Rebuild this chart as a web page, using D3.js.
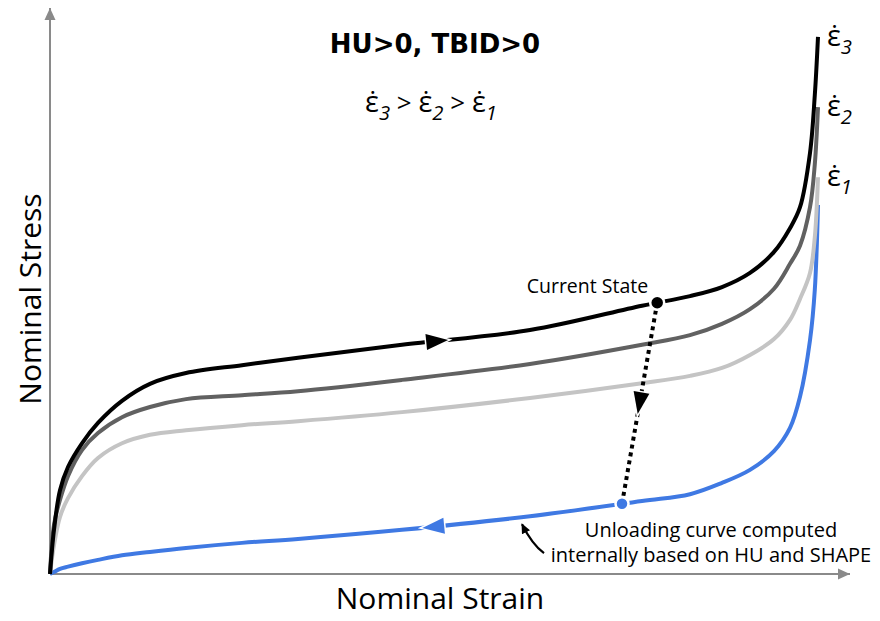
<!DOCTYPE html>
<html>
<head>
<meta charset="utf-8">
<script src="https://cdn.jsdelivr.net/npm/d3@7"></script>
<style>
  body { margin: 0; background: #fff; }
  svg text { font-family: "Open Sans", "Noto Sans", sans-serif; fill: #000; }
</style>
</head>
<body>
<div id="chart"></div>
<script>
// nominal strain (percent of axis) shared by all curves
const strain = [0, 0.5, 1.25, 2.25, 4, 6, 9, 12.5, 17, 24, 31, 44, 60, 74, 80, 84, 87.5, 90.5, 92.5, 93.75, 95, 95.6, 96]

// nominal stress (percent of axis) for each strain rate
const stressRate3 = [0, 7.8, 14.8, 18.9, 23.1, 26.7, 30.6, 33.6, 35.5, 36.9, 38.2, 40.5, 43.1, 47.4, 49.1, 50.7, 53.2, 56.9, 61.1, 64.8, 74.4, 84.6, 94.9]
const stressRate2 = [0, 8.7, 13.1, 17.3, 21.9, 24.9, 27.7, 29.5, 30.9, 31.6, 32.3, 34.3, 37.1, 40.5, 42.2, 44.2, 46.8, 50.4, 54.8, 58.0, 64.8, 72.4, 82.5]
const stressRate1 = [0, 5.1, 10.1, 13.4, 17.3, 20.5, 23.1, 24.6, 25.4, 26.3, 27.0, 28.6, 31.1, 33.7, 35.0, 36.4, 38.7, 41.5, 44.9, 48.6, 53.2, 59.5, 70.1]
const stressUnload = [0, 0.35, 0.9, 1.3, 1.9, 2.5, 3.3, 3.9, 4.6, 5.5, 6.2, 7.8, 10.2, 12.9, 14.1, 16.1, 18.4, 21.7, 25.8, 31.3, 41.3, 50.2, 65.2]

const rateLabels = ["3", "2", "1"]
const rateColors = ["#000000", "#616161", "#c4c4c4"]
const unloadColor = "#3f79e3"

const loadArrowStrain = 48.4     // direction arrow on the loading curve
const unloadArrowStrain = 47.9   // direction arrow on the unloading curve
const currentStrain = 75.9       // "Current State" on the fastest curve
const unloadStartStrain = 71.5   // where unloading begins
const noteStrain = 59            // annotation arrow target

const titleText = "HU>0, TBID>0"
const noteLines = ["Unloading curve computed", "internally based on HU and SHAPE"]

const W = 880, H = 621
const svg = d3.select("#chart").append("svg")
    .attr("width", W)
    .attr("height", H)

const x = d3.scaleLinear().domain([0, 100]).range([50, 850])
const y = d3.scaleLinear().domain([0, 100]).range([574, 8])

// arrowheads
const defs = svg.append("defs")
defs.append("marker")
    .attr("id", "axisArrow")
    .attr("markerUnits", "userSpaceOnUse")
    .attr("viewBox", "0 -6 12 12")
    .attr("refX", 12).attr("refY", 0)
    .attr("markerWidth", 12).attr("markerHeight", 12)
    .attr("orient", "auto")
    .append("path").attr("d", "M0,-5.5L12,0L0,5.5Z").attr("fill", "#8a8a8a")
defs.append("marker")
    .attr("id", "noteArrow")
    .attr("markerUnits", "userSpaceOnUse")
    .attr("viewBox", "0 -5 10 10")
    .attr("refX", 9).attr("refY", 0)
    .attr("markerWidth", 10).attr("markerHeight", 10)
    .attr("orient", "auto")
    .append("path").attr("d", "M0,-4.5L10,0L0,4.5Z").attr("fill", "#000")

// axes: plain arrows, no ticks
const xAxis = svg.append("g")
    .attr("transform", "translate(0," + y(0) + ")")
    .call(d3.axisBottom(x).ticks(0).tickSizeOuter(0))
const yAxis = svg.append("g")
    .attr("transform", "translate(" + x(0) + ",0)")
    .call(d3.axisLeft(y).ticks(0).tickSizeOuter(0))
svg.selectAll(".domain")
    .attr("stroke", "#8a8a8a")
    .attr("stroke-width", 2)
    .attr("marker-end", "url(#axisArrow)")
// draw the y domain bottom -> top so the arrow sits at the top
yAxis.select(".domain").attr("d", "M0," + y(0) + "V" + y(100))
xAxis.select(".domain").attr("d", "M" + x(0) + ",0H" + x(100))

svg.append("text")
    .attr("x", 440).attr("y", 609)
    .attr("text-anchor", "middle")
    .style("font-size", "30px")
    .text("Nominal Strain")
svg.append("text")
    .attr("transform", "translate(41,299) rotate(-90)")
    .attr("text-anchor", "middle")
    .style("font-size", "30px")
    .text("Nominal Stress")

// curves
const line = d3.line()
    .x(d => x(d[0]))
    .y(d => y(d[1]))
    .curve(d3.curveCatmullRom.alpha(0.5))

const unloadPath = svg.append("path")
    .datum(d3.zip(strain, stressUnload))
    .attr("fill", "none")
    .attr("stroke", unloadColor)
    .attr("stroke-width", 4)
    .attr("d", line)

const rateSeries = [stressRate3, stressRate2, stressRate1]
let ratePaths = []
for (let i = rateSeries.length - 1; i >= 0; i--) {
    ratePaths[i] = svg.append("path")
        .datum(d3.zip(strain, rateSeries[i]))
        .attr("fill", "none")
        .attr("stroke", rateColors[i])
        .attr("stroke-width", 4)
        .attr("d", line)
}

// find point (and heading) on a path at a given strain
function pointAt(path, s) {
    const node = path.node()
    const px = x(s)
    let lo = 0, hi = node.getTotalLength()
    for (let k = 0; k < 40; k++) {
        const mid = (lo + hi) / 2
        if (node.getPointAtLength(mid).x < px) lo = mid
        else hi = mid
    }
    const p = node.getPointAtLength(lo)
    const a = node.getPointAtLength(Math.max(0, lo - 3))
    const b = node.getPointAtLength(lo + 3)
    p.angle = Math.atan2(b.y - a.y, b.x - a.x) * 180 / Math.PI
    return p
}

function arrowHead(p, angle, color) {
    svg.append("path")
        .attr("d", "M-11,-8L11,0L-11,8Z")
        .attr("transform", "translate(" + p.x + "," + p.y + ") rotate(" + angle + ")")
        .attr("fill", color)
        .attr("stroke", "#fff")
        .attr("stroke-width", 3)
        .attr("paint-order", "stroke")
}

const pLoad = pointAt(ratePaths[0], loadArrowStrain)
arrowHead(pLoad, pLoad.angle, rateColors[0])
const pUnload = pointAt(unloadPath, unloadArrowStrain)
arrowHead(pUnload, pUnload.angle + 180, unloadColor)

// current state -> unloading start
const pCur = pointAt(ratePaths[0], currentStrain)
const pStart = pointAt(unloadPath, unloadStartStrain)
svg.append("line")
    .attr("x1", pCur.x).attr("y1", pCur.y)
    .attr("x2", pStart.x).attr("y2", pStart.y)
    .attr("stroke", "#000")
    .attr("stroke-width", 4)
    .attr("stroke-dasharray", "4,4")
const dropAngle = Math.atan2(pStart.y - pCur.y, pStart.x - pCur.x) * 180 / Math.PI
arrowHead({x: pCur.x + (pStart.x - pCur.x) * 0.5, y: pCur.y + (pStart.y - pCur.y) * 0.5}, dropAngle, "#000")

svg.append("circle")
    .attr("cx", pCur.x).attr("cy", pCur.y).attr("r", 7)
    .attr("fill", "#000").attr("stroke", "#fff").attr("stroke-width", 2.5)
svg.append("circle")
    .attr("cx", pStart.x).attr("cy", pStart.y).attr("r", 6.5)
    .attr("fill", unloadColor).attr("stroke", "#fff").attr("stroke-width", 2.5)

svg.append("text")
    .attr("x", pCur.x - 9).attr("y", pCur.y - 10)
    .attr("text-anchor", "end")
    .style("font-size", "19.5px")
    .text("Current State")

// annotation for unloading curve
const pNote = pointAt(unloadPath, noteStrain)
const tip = {x: pNote.x, y: pNote.y + 7}
const tail = {x: pNote.x + 22, y: pNote.y + 36}
svg.append("path")
    .attr("d", "M" + tail.x + "," + tail.y + "Q" + (tail.x - 12) + "," + (tail.y - 9) + " " + tip.x + "," + tip.y)
    .attr("fill", "none")
    .attr("stroke", "#000")
    .attr("stroke-width", 2.2)
    .attr("marker-end", "url(#noteArrow)")
svg.selectAll(".note")
    .data(noteLines)
    .enter()
    .append("text")
    .attr("class", "note")
    .attr("x", 711)
    .attr("y", (d, i) => 537 + i * 25)
    .attr("text-anchor", "middle")
    .style("font-size", "20px")
    .text(d => d)

// title
svg.append("text")
    .attr("x", 435).attr("y", 53)
    .attr("text-anchor", "middle")
    .style("font-family", "'DejaVu Sans', sans-serif")
    .style("font-size", "26px")
    .style("font-weight", "bold")
    .text(titleText)

function epsDot(sel, sub, size) {
    sel.append("tspan").style("font-size", size + "px").text("\u03b5\u0307")
    sel.append("tspan")
        .attr("dy", size * 0.28)
        .style("font-size", (size * 0.7) + "px")
        .style("font-style", "italic")
        .text(sub)
}

const order = svg.append("text")
    .attr("x", 431).attr("y", 112)
    .attr("text-anchor", "middle")
    .style("font-size", "29px")
rateLabels.forEach(function (r, i) {
    if (i > 0) {
        order.append("tspan").attr("dy", -29 * 0.28).style("font-size", "26px").text(" > ")
    }
    epsDot(order, r, 29)
})

// labels at the end of each loading curve
rateLabels.forEach(function (r, i) {
    const end = ratePaths[i].node()
    const p = end.getPointAtLength(end.getTotalLength())
    const lbl = svg.append("text")
        .attr("x", p.x + 9)
        .attr("y", p.y + 9)
    epsDot(lbl, r, 29)
})
</script>
</body>
</html>
